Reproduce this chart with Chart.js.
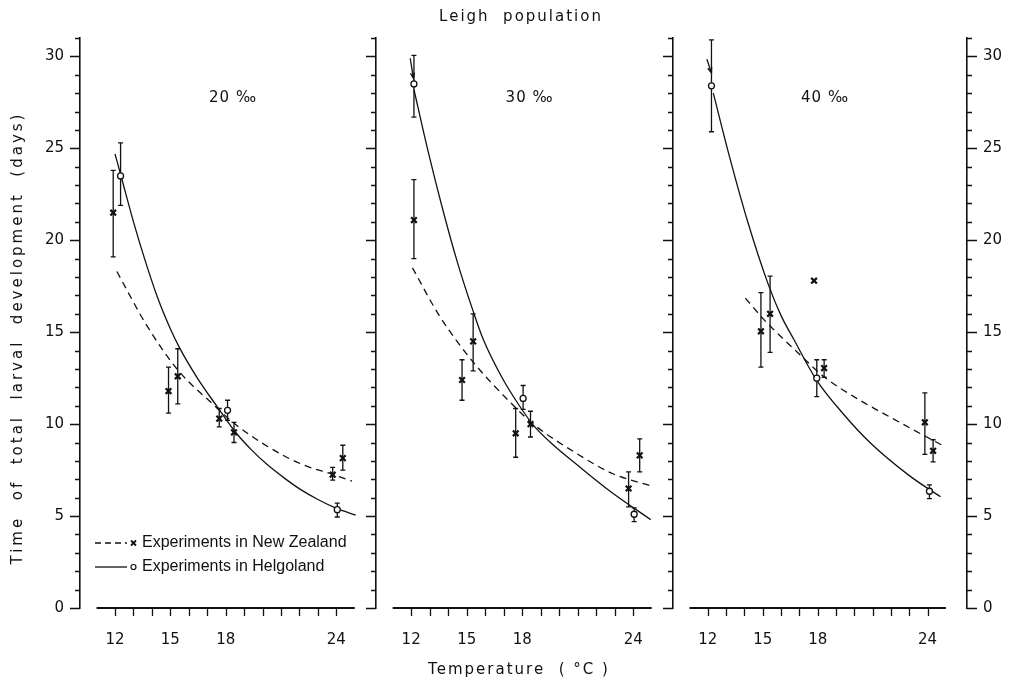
<!DOCTYPE html>
<html>
<head>
<meta charset="utf-8">
<title>Leigh population</title>
<script src="https://cdn.jsdelivr.net/npm/chart.js"></script>
<style>
  body { margin: 0; background: #fff; }
  #fig { position: relative; width: 1011px; height: 681px; overflow: hidden; background: #fff; }
  #fig canvas { position: absolute; top: 0; }
  .txt { position: absolute; font-family: 'DejaVu Sans', sans-serif; color: #111; white-space: pre; font-size: 15px; line-height: 20px; }
  #title { left: 421px; width: 200px; top: 6px; text-align: center; letter-spacing: 2px; }
  #xtitle { left: 369px; width: 300px; top: 659px; text-align: center; letter-spacing: 2px; }
  #ytitle { left: -233px; width: 500px; top: 328px; height: 20px; text-align: center; letter-spacing: 3px; transform: rotate(-90deg); }
</style>
</head>
<body>
<div id="fig">
  <canvas id="c20" width="400" height="681" style="left:0px"></canvas>
  <canvas id="c30" width="330" height="681" style="left:356px"></canvas>
  <canvas id="c40" width="358" height="681" style="left:653px"></canvas>
  <div class="txt" id="title">Leigh  population</div>
  <div class="txt" id="ytitle">Time  of  total  larval  development  (days)</div>
  <div class="txt" id="xtitle">Temperature  ( °C )</div>
</div>
<script>
var ink = '#111';

// axes
var tempTicks = [12, 13, 14, 15, 16, 17, 18, 19, 20, 21, 22, 23, 24];
var tempLabels = [12, 15, 18, 24];
var dayTicks = [0, 1, 2, 3, 4, 5, 6, 7, 8, 9, 10, 11, 12, 13, 14, 15, 16, 17, 18, 19, 20, 21, 22, 23, 24, 25, 26, 27, 28, 29, 30, 31];
var dayLabels = [0, 5, 10, 15, 20, 25, 30];
var salinityLabels = ['20 ‰', '30 ‰', '40 ‰'];
var legendLabels = ['Experiments in New Zealand', 'Experiments in Helgoland'];

// 20 per mille
var nz20Temp = [11.9, 14.9, 15.4, 17.65, 18.45, 23.8, 24.35];
var nz20Days = [21.5, 11.8, 12.6, 10.3, 9.55, 7.25, 8.15];
var nz20Low = [19.1, 10.6, 11.1, 9.85, 9.0, 6.95, 7.5];
var nz20High = [23.8, 13.1, 14.1, 10.85, 10.1, 7.65, 8.85];
var hel20Temp = [12.3, 18.1, 24.05];
var hel20Days = [23.5, 10.75, 5.35];
var hel20Low = [21.9, 10.2, 4.95];
var hel20High = [25.3, 11.3, 5.7];
var nzFit20Temp = [12.1, 13.7, 15.4, 17.4, 18.45, 20.25, 22.05, 23.85, 24.85];
var nzFit20Days = [18.3, 15.4, 12.95, 11.0, 10.05, 8.8, 7.85, 7.25, 6.9];
var helFit20Temp = [12.0, 12.35, 13.0, 13.6, 14.3, 14.95, 15.5, 16.5, 17.5, 18.5, 19.4, 20.25, 21.2, 22.05, 23.0, 24.05, 25.05];
var helFit20Days = [24.7, 23.4, 21.0, 19.0, 16.9, 15.3, 14.15, 12.45, 11.0, 9.6, 8.6, 7.8, 7.05, 6.45, 5.9, 5.4, 5.05];

// 30 per mille
var nz30Temp = [12.15, 14.75, 15.35, 17.65, 18.45, 23.75, 24.35];
var nz30Days = [21.1, 12.4, 14.5, 9.5, 10.0, 6.5, 8.3];
var nz30Low = [19.0, 11.3, 12.9, 8.2, 9.3, 5.5, 7.4];
var nz30High = [23.3, 13.5, 16.0, 10.85, 10.7, 7.4, 9.2];
var hel30Temp = [12.15, 18.05, 24.05];
var hel30Days = [28.5, 11.4, 5.1];
var hel30Low = [26.7, 10.8, 4.7];
var hel30High = [30.05, 12.1, 5.45];
var nzFit30Temp = [12.07, 13.52, 15.33, 17.69, 18.6, 20.95, 22.9, 25.0];
var nzFit30Days = [18.5, 15.9, 13.4, 10.85, 10.0, 8.4, 7.3, 6.63];
var helFit30Temp = [12.15, 12.9, 13.7, 14.5, 15.33, 15.9, 16.9, 17.85, 18.6, 19.7, 20.95, 22.75, 24.95];
var helFit30Days = [28.2, 24.9, 21.7, 18.8, 16.2, 14.6, 12.55, 11.0, 9.95, 8.85, 7.8, 6.35, 4.8];
var arrow30Temp = [11.95, 12.12];
var arrow30Days = [29.9, 28.8];

// 40 per mille
var nz40Temp = [14.9, 15.4, 17.8, 18.35, 23.85, 24.3];
var nz40Days = [15.05, 16.0, 17.8, 13.05, 10.1, 8.55];
var nz40Low = [13.1, 13.9, null, 12.55, 8.35, 7.95];
var nz40High = [17.15, 18.05, null, 13.5, 11.7, 9.15];
var hel40Temp = [12.2, 17.95, 24.1];
var hel40Days = [28.4, 12.5, 6.35];
var hel40Low = [25.9, 11.5, 5.95];
var hel40High = [30.9, 13.5, 6.7];
var nzFit40Temp = [14.05, 15.05, 16.0, 16.9, 17.85, 18.5, 20.3, 22.1, 23.95, 24.8];
var nzFit40Days = [16.85, 15.7, 14.75, 13.9, 13.0, 12.45, 11.3, 10.3, 9.3, 8.85];
var helFit40Temp = [12.3, 13.25, 14.15, 15.3, 16.0, 16.7, 17.9, 19.4, 20.85, 23.0, 24.7];
var helFit40Days = [28.0, 24.3, 21.1, 17.6, 15.9, 14.6, 12.45, 10.55, 9.0, 7.2, 6.05];
var arrow40Temp = [11.95, 12.2];
var arrow40Days = [29.85, 29.1];

Chart.defaults.font.family = "'DejaVu Sans', sans-serif";
Chart.defaults.font.size = 15;
Chart.defaults.color = ink;

function pts(xs, ys) {
	return xs.map(function(x, i) { return {x: x, y: ys[i]}; });
}

// axis lines and tick marks drawn from the scales
var axisPlugin = {
	id: 'axisMarks',
	beforeDatasetsDraw: function(chart) {
		var ctx = chart.ctx, xs = chart.scales.x, ys = chart.scales.y, a = chart.chartArea;
		ctx.save();
		ctx.strokeStyle = ink;
		var y0 = ys.getPixelForValue(0);
		ctx.lineWidth = 1.8;
		ctx.beginPath();
		ctx.moveTo(xs.getPixelForValue(11), y0);
		ctx.lineTo(xs.getPixelForValue(25), y0);
		ctx.stroke();
		ctx.lineWidth = 1.3;
		ctx.beginPath();
		tempTicks.forEach(function(t) {
			var px = Math.round(xs.getPixelForValue(t)) + 0.5;
			ctx.moveTo(px, y0);
			ctx.lineTo(px, y0 + 8);
		});
		Object.keys(chart.scales).forEach(function(k) {
			var s = chart.scales[k];
			if (s.axis !== 'y') return;
			var left = s.position === 'left';
			var edge = left ? a.left : a.right;
			var dir = left ? -1 : 1;
			dayTicks.forEach(function(v) {
				var py = Math.round(s.getPixelForValue(v)) + 0.5;
				var len = dayLabels.indexOf(v) >= 0 ? 10 : 5;
				ctx.moveTo(edge, py);
				ctx.lineTo(edge + dir * len, py);
			});
		});
		ctx.stroke();
		ctx.restore();
	}
};

var errorBarPlugin = {
	id: 'errorBars',
	beforeDatasetsDraw: function(chart) {
		var ctx = chart.ctx, xs = chart.scales.x, ys = chart.scales.y;
		ctx.save();
		ctx.strokeStyle = ink;
		ctx.lineWidth = 1.3;
		chart.data.datasets.forEach(function(ds) {
			if (!ds.errLow) return;
			ds.data.forEach(function(p, i) {
				var lo = ds.errLow[i], hi = ds.errHigh[i];
				if (lo == null || hi == null) return;
				var px = xs.getPixelForValue(p.x);
				var pl = ys.getPixelForValue(lo), ph = ys.getPixelForValue(hi);
				ctx.beginPath();
				ctx.moveTo(px, pl); ctx.lineTo(px, ph);
				ctx.moveTo(px - 2.5, pl); ctx.lineTo(px + 2.5, pl);
				ctx.moveTo(px - 2.5, ph); ctx.lineTo(px + 2.5, ph);
				ctx.stroke();
			});
		});
		ctx.restore();
	}
};

var notePlugin = {
	id: 'notes',
	afterDraw: function(chart, args, opts) {
		var ctx = chart.ctx, xs = chart.scales.x, ys = chart.scales.y, a = chart.chartArea;
		ctx.save();
		ctx.fillStyle = ink;
		ctx.strokeStyle = ink;
		// salinity label
		ctx.font = "15px 'DejaVu Sans'";
		ctx.letterSpacing = '1px';
		ctx.textAlign = 'center';
		ctx.textBaseline = 'middle';
		ctx.fillText(opts.label, xs.getPixelForValue(18.4), ys.getPixelForValue(27.75));
		ctx.letterSpacing = '0px';
		// small arrow at the top point
		if (opts.arrowTemp) {
			var x1 = xs.getPixelForValue(opts.arrowTemp[0]), y1 = ys.getPixelForValue(opts.arrowDays[0]);
			var x2 = xs.getPixelForValue(opts.arrowTemp[1]), y2 = ys.getPixelForValue(opts.arrowDays[1]);
			var ang = Math.atan2(y2 - y1, x2 - x1);
			ctx.lineWidth = 1.3;
			ctx.beginPath();
			ctx.moveTo(x1, y1); ctx.lineTo(x2, y2);
			ctx.moveTo(x2 - 6 * Math.cos(ang - 0.35), y2 - 6 * Math.sin(ang - 0.35));
			ctx.lineTo(x2, y2);
			ctx.lineTo(x2 - 6 * Math.cos(ang + 0.35), y2 - 6 * Math.sin(ang + 0.35));
			ctx.stroke();
		}
		// legend box inside the first panel
		if (opts.legend) {
			var rows = [a.bottom - 65, a.bottom - 41];
			var x0 = a.left + 15;
			ctx.lineWidth = 1.3;
			ctx.beginPath();
			ctx.setLineDash([6, 4]);
			ctx.moveTo(x0, rows[0]); ctx.lineTo(x0 + 32, rows[0]);
			ctx.stroke();
			ctx.setLineDash([]);
			ctx.beginPath();
			ctx.moveTo(x0, rows[1]); ctx.lineTo(x0 + 32, rows[1]);
			ctx.stroke();
			// x and o markers
			ctx.lineWidth = 1.8;
			ctx.beginPath();
			ctx.moveTo(x0 + 36, rows[0] - 2.5); ctx.lineTo(x0 + 41, rows[0] + 2.5);
			ctx.moveTo(x0 + 41, rows[0] - 2.5); ctx.lineTo(x0 + 36, rows[0] + 2.5);
			ctx.stroke();
			ctx.lineWidth = 1.2;
			ctx.beginPath();
			ctx.arc(x0 + 38.5, rows[1], 2.5, 0, Math.PI * 2);
			ctx.stroke();
			ctx.font = "16px 'Liberation Sans'";
			ctx.textAlign = 'left';
			ctx.textBaseline = 'middle';
			ctx.fillText(legendLabels[0], x0 + 47, rows[0]);
			ctx.fillText(legendLabels[1], x0 + 47, rows[1]);
		}
		ctx.restore();
	}
};

function makeDatasets(nzT, nzD, nzLo, nzHi, helT, helD, helLo, helHi, nzFT, nzFD, helFT, helFD) {
	return [
		{
			label: legendLabels[0], data: pts(nzT, nzD), errLow: nzLo, errHigh: nzHi,
			showLine: false, pointStyle: 'crossRot', pointRadius: 4, pointBorderWidth: 2.2,
			borderColor: ink, pointBorderColor: ink
		},
		{
			label: legendLabels[1], data: pts(helT, helD), errLow: helLo, errHigh: helHi,
			showLine: false, pointStyle: 'circle', pointRadius: 3, pointBorderWidth: 1.3,
			borderColor: ink, pointBorderColor: ink, pointBackgroundColor: '#fff'
		},
		{
			label: 'fit NZ', data: pts(nzFT, nzFD), showLine: true, pointRadius: 0,
			borderColor: ink, borderWidth: 1.3, borderDash: [7, 5], cubicInterpolationMode: 'monotone'
		},
		{
			label: 'fit Helgoland', data: pts(helFT, helFD), showLine: true, pointRadius: 0,
			borderColor: ink, borderWidth: 1.3, cubicInterpolationMode: 'monotone'
		}
	];
}

function yScale(pos, showLabels, width) {
	return {
		type: 'linear', min: 0, max: 31, position: pos,
		border: {display: true, color: ink, width: 1.6},
		grid: {display: false, drawTicks: false},
		ticks: {
			display: showLabels, stepSize: 1, padding: 16, autoSkip: false, color: ink,
			font: {size: 15},
			callback: function(v) { return dayLabels.indexOf(v) >= 0 ? String(v) : ''; }
		},
		afterFit: function(s) { s.width = width; }
	};
}

function makePanel(id, datasets, opts) {
	var scales = {
		x: {
			type: 'linear', min: 10.1, max: 26.15,
			border: {display: false},
			grid: {display: false, drawTicks: false},
			afterBuildTicks: function(s) { s.ticks = tempTicks.map(function(v) { return {value: v}; }); },
			ticks: {
				autoSkip: false, maxRotation: 0, padding: 23, color: ink, font: {size: 15},
				callback: function(v) { return tempLabels.indexOf(v) >= 0 ? String(v) : ''; }
			},
			afterFit: function(s) { s.height = 73; }
		},
		y: yScale('left', opts.leftLabels, opts.leftWidth)
	};
	if (opts.rightAxis) scales.y2 = yScale('right', true, 44);

	return new Chart(document.getElementById(id), {
		type: 'scatter',
		data: {datasets: datasets},
		options: {
			responsive: false,
			animation: false,
			layout: {padding: {top: 38, right: opts.padRight, bottom: 0, left: 0}},
			scales: scales,
			plugins: {
				legend: {display: false},
				tooltip: {enabled: false},
				notes: opts.notes
			}
		},
		plugins: [axisPlugin, errorBarPlugin, notePlugin]
	});
}

makePanel('c20',
	makeDatasets(nz20Temp, nz20Days, nz20Low, nz20High, hel20Temp, hel20Days, hel20Low, hel20High,
		nzFit20Temp, nzFit20Days, helFit20Temp, helFit20Days),
	{leftLabels: true, leftWidth: 80, padRight: 24, notes: {label: salinityLabels[0], legend: true}});

makePanel('c30',
	makeDatasets(nz30Temp, nz30Days, nz30Low, nz30High, hel30Temp, hel30Days, hel30Low, hel30High,
		nzFit30Temp, nzFit30Days, helFit30Temp, helFit30Days),
	{leftLabels: false, leftWidth: 20, padRight: 13,
		notes: {label: salinityLabels[1], arrowTemp: arrow30Temp, arrowDays: arrow30Days}});

makePanel('c40',
	makeDatasets(nz40Temp, nz40Days, nz40Low, nz40High, hel40Temp, hel40Days, hel40Low, hel40High,
		nzFit40Temp, nzFit40Days, helFit40Temp, helFit40Days),
	{leftLabels: false, leftWidth: 20, padRight: 0, rightAxis: true,
		notes: {label: salinityLabels[2], arrowTemp: arrow40Temp, arrowDays: arrow40Days}});
</script>
</body>
</html>
